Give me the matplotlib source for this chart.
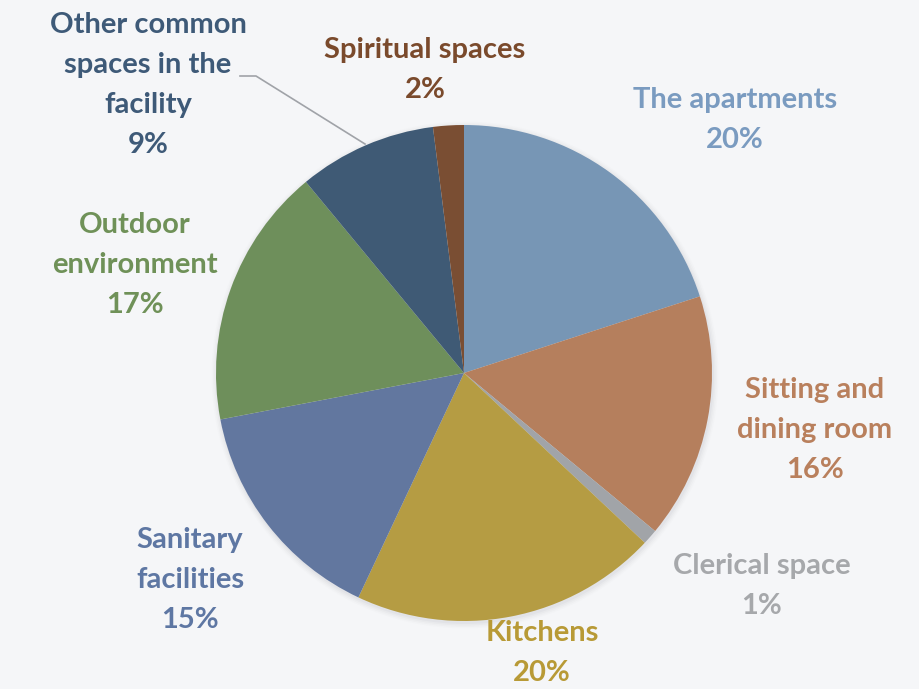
import matplotlib.pyplot as plt
from matplotlib.patches import Circle

plt.rcParams['font.family'] = ['Lato', 'DejaVu Sans']

# Share of mentions by space type, clockwise from 12 o'clock
spaces = ['The apartments', 'Sitting and\ndining room', 'Clerical space', 'Kitchens',
          'Sanitary\nfacilities', 'Outdoor\nenvironment',
          'Other common\nspaces in the\nfacility', 'Spiritual spaces']
shares = [20, 16, 1, 20, 15, 17, 9, 2]
wedge_colors = ['#7796b5', '#b57f5d', '#a1a4a8', '#b59c43',
                '#62779f', '#6e8f5b', '#3f5a75', '#7a4e33']
text_colors = ['#7a9bc0', '#b9805d', '#a6a8ab', '#b89a36',
               '#5e77a3', '#6f9158', '#3e5a78', '#7a4a2c']

# label anchor (x, first-line y) in pixel space
label_pos = [(735, 100), (815, 390), (762, 566), (542, 633),
             (190, 540), (135, 225), (148, 25), (425, 50)]

W, H = 919, 689
fig = plt.figure(figsize=(W / 100, H / 100), dpi=100)
fig.patch.set_facecolor('#f5f6f8')
ax = fig.add_axes([0, 0, 1, 1])

cx, cy, r = 464, H - 373, 248

# soft shadow under the pie
for i, a in enumerate([0.05, 0.04, 0.03, 0.02]):
    ax.add_patch(Circle((cx + 1, cy - 2), r + 1 + i * 1.5, color='#7a7f88',
                        alpha=a, lw=0, zorder=0))

ax.pie(shares, colors=wedge_colors, startangle=90, counterclock=False,
       center=(cx, cy), radius=r, frame=True,
       wedgeprops=dict(linewidth=0, edgecolor='none'))
ax.set_xlim(0, W)
ax.set_ylim(0, H)
ax.set_aspect('equal')
ax.axis('off')

line_h = 40
for name, val, col, (x, y) in zip(spaces, shares, text_colors, label_pos):
    lines = name.split('\n') + [f'{val}%']
    for k, s in enumerate(lines):
        ax.text(x, H - (y + k * line_h), s, ha='center', va='center',
                fontsize=21, fontweight='bold', color=col)

# leader line for the "Other common spaces" label
ax.plot([240, 256, 365], [H - 76, H - 76, H - 144], color='#a0a3a8', lw=1.2)

fig.savefig('out.png', dpi=100, facecolor=fig.get_facecolor())
